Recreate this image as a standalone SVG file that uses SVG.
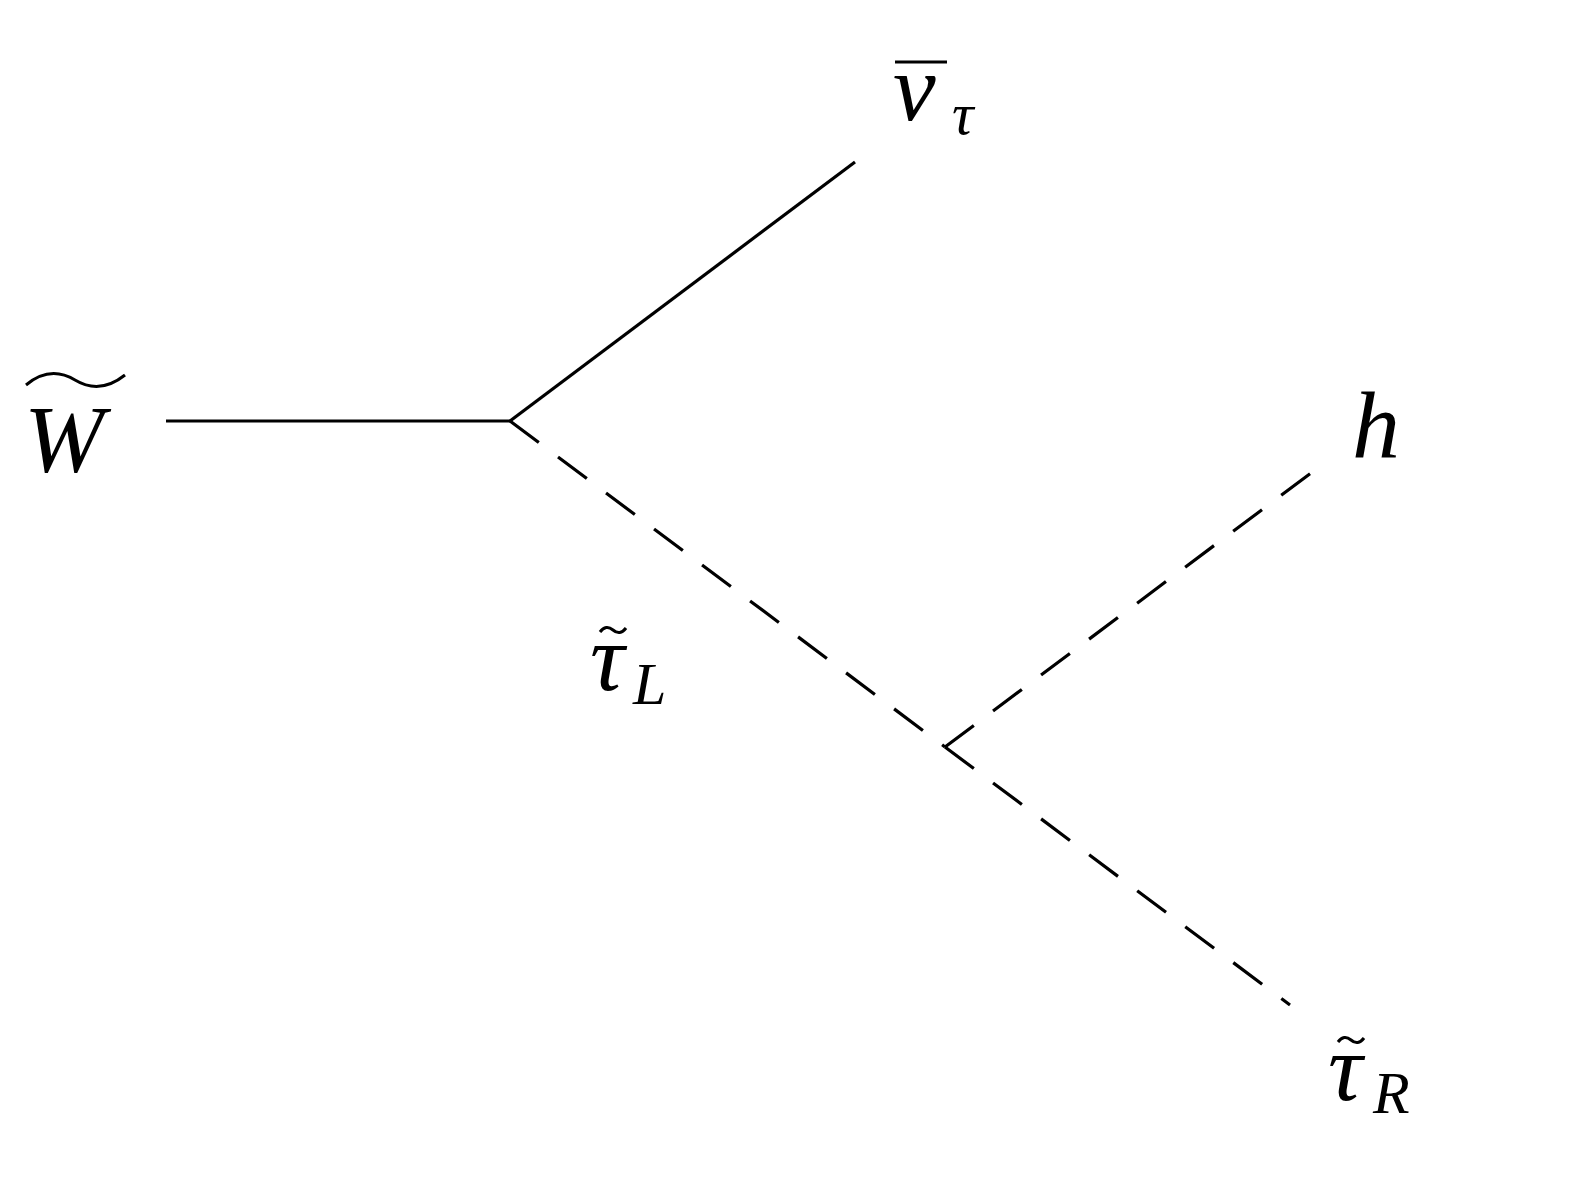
<svg xmlns="http://www.w3.org/2000/svg" width="1591" height="1182" viewBox="0 0 1591 1182">
<style>
.l{stroke:#000;stroke-width:3.2;fill:none}
.d{stroke-dasharray:36 24}
.t{stroke:#000;stroke-width:3;fill:none}
text{font-family:"Liberation Serif","DejaVu Serif",serif;font-style:italic;fill:#000}
.b{font-size:96px}
.s{font-size:60px}
</style>
<rect width="1591" height="1182" fill="#fff"/>
<g id="connectors">
<line class="l" x1="166" y1="421" x2="510" y2="421"/>
<line class="l" x1="510" y1="421" x2="855" y2="162"/>
<line class="l d" x1="510" y1="421" x2="945" y2="747"/>
<line class="l d" x1="945" y1="747" x2="1315" y2="470"/>
<line class="l d" x1="945" y1="747" x2="1290" y2="1005"/>
</g>
<g id="W"><text class="b" x="24" y="472">W</text><path d="M26 385 Q50 365 75 380 T125 375" class="t"/></g>
<g id="nu"><text class="b" x="893" y="120">ν</text><line x1="895" y1="62" x2="947" y2="62" class="l"/><text class="s" x="952" y="134">τ</text></g>
<g id="h"><text class="b" x="1352" y="458">h</text></g>
<g id="tauL"><text class="b" x="590" y="690">τ</text><path d="M600 632 Q606 624 613 630 T626 628" class="t"/><text class="s" x="633" y="704">L</text></g>
<g id="tauR"><text class="b" x="1328" y="1100">τ</text><path d="M1338 1042 Q1344 1034 1351 1040 T1364 1038" class="t"/><text class="s" x="1373" y="1113">R</text></g>
</svg>
